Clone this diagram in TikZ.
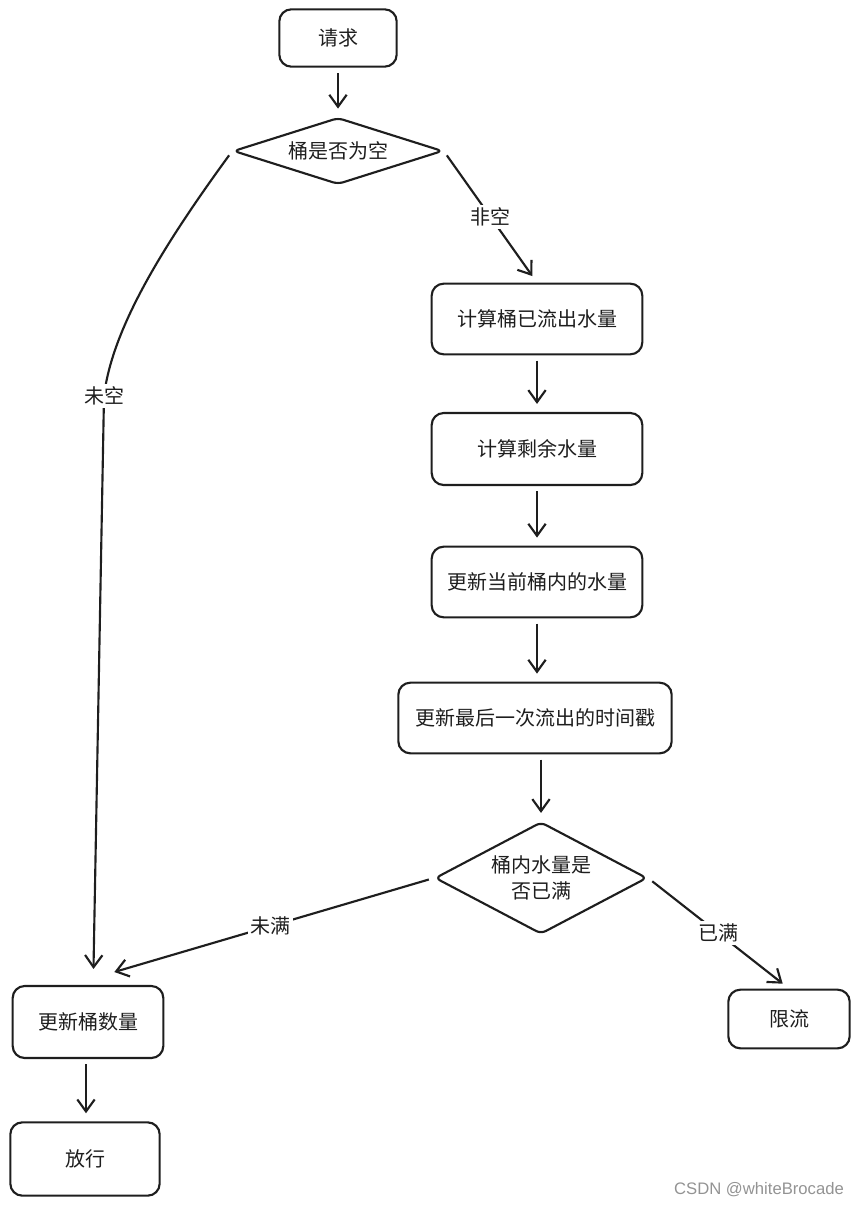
\documentclass[tikz,border=0pt]{standalone}
\usepackage{fontspec}
\setmainfont{Noto Sans CJK SC}
\newfontfamily\markfont{Liberation Sans}
\usepgflibrary{shapes.geometric}
\usetikzlibrary{arrows.meta}

\definecolor{ink}{HTML}{1E1E1E}
\tikzset{
	proc/.style={draw=ink, line width=1.6pt, rounded corners=9pt, align=center,
		text=ink, font=\fontsize{15}{19}\selectfont},
	cond/.style={draw=ink, diamond, aspect=3, inner sep=0pt, line width=1.6pt,
		rounded corners=4pt, align=center, text=ink, font=\fontsize{15}{19}\selectfont},
	flow/.style={draw=ink, line width=1.6pt, -{Straight Barb[length=9pt,width=13pt]},
		shorten <=4pt, shorten >=6pt},
	lbl/.style={fill=white, inner sep=2pt, text=ink, font=\fontsize{15}{19}\selectfont}
}

\begin{document}
\begin{tikzpicture}[x=0.75pt,y=-0.75pt]
	\useasboundingbox (0,0) rectangle (860,1206);
	% steps
	\node[proc, minimum width=88pt, minimum height=43pt] (req) at (338,38) {请求};
	\node[cond, minimum width=157pt, minimum height=50pt] (empty) at (338,151) {桶是否为空};
	\node[proc, minimum width=158pt, minimum height=53pt] (flowout) at (537,319) {计算桶已流出水量};
	\node[proc, minimum width=158pt, minimum height=54pt] (remain) at (537,449) {计算剩余水量};
	\node[proc, minimum width=158pt, minimum height=53pt] (level) at (537,582) {更新当前桶内的水量};
	\node[proc, minimum width=205pt, minimum height=53pt] (stamp) at (535,718) {更新最后一次流出的时间戳};
	\node[cond, aspect=2, minimum width=159pt, minimum height=84pt] (full) at (541,878) {桶内水量是\\否已满};
	\node[proc, minimum width=91pt, minimum height=44pt] (limit) at (789,1019) {限流};
	\node[proc, minimum width=113pt, minimum height=54pt] (count) at (88,1022) {更新桶数量};
	\node[proc, minimum width=112pt, minimum height=55pt] (pass) at (85,1159) {放行};
	% arrows
	\draw[flow] (req) -- (empty);
	\draw[flow] (empty.east) -- node[lbl] {非空} (flowout.north);
	\draw[flow] (empty.west) .. controls (160,250) and (112,330) .. (104,396) node[lbl] {未空}
		-- ([xshift=4pt,yshift=6pt]count.north);
	\draw[flow] (flowout) -- (remain);
	\draw[flow] (remain) -- (level);
	\draw[flow] (level) -- (level |- stamp.north);
	\draw[flow] (stamp.south -| full) -- (full);
	\draw[flow] (full.west) -- node[lbl] {未满} ([xshift=14pt,yshift=8pt]count.north);
	\draw[flow] (full.east) -- node[lbl] {已满} (limit.north);
	\draw[flow] ([xshift=-1.5pt]count.south) -- ([xshift=-1.5pt]count.south |- pass.north);
	% watermark
	\node[font=\markfont\fontsize{12.5}{14}\selectfont, text=gray!85] (mark) at (759,1190) {CSDN @whiteBrocade};
\end{tikzpicture}
\end{document}
